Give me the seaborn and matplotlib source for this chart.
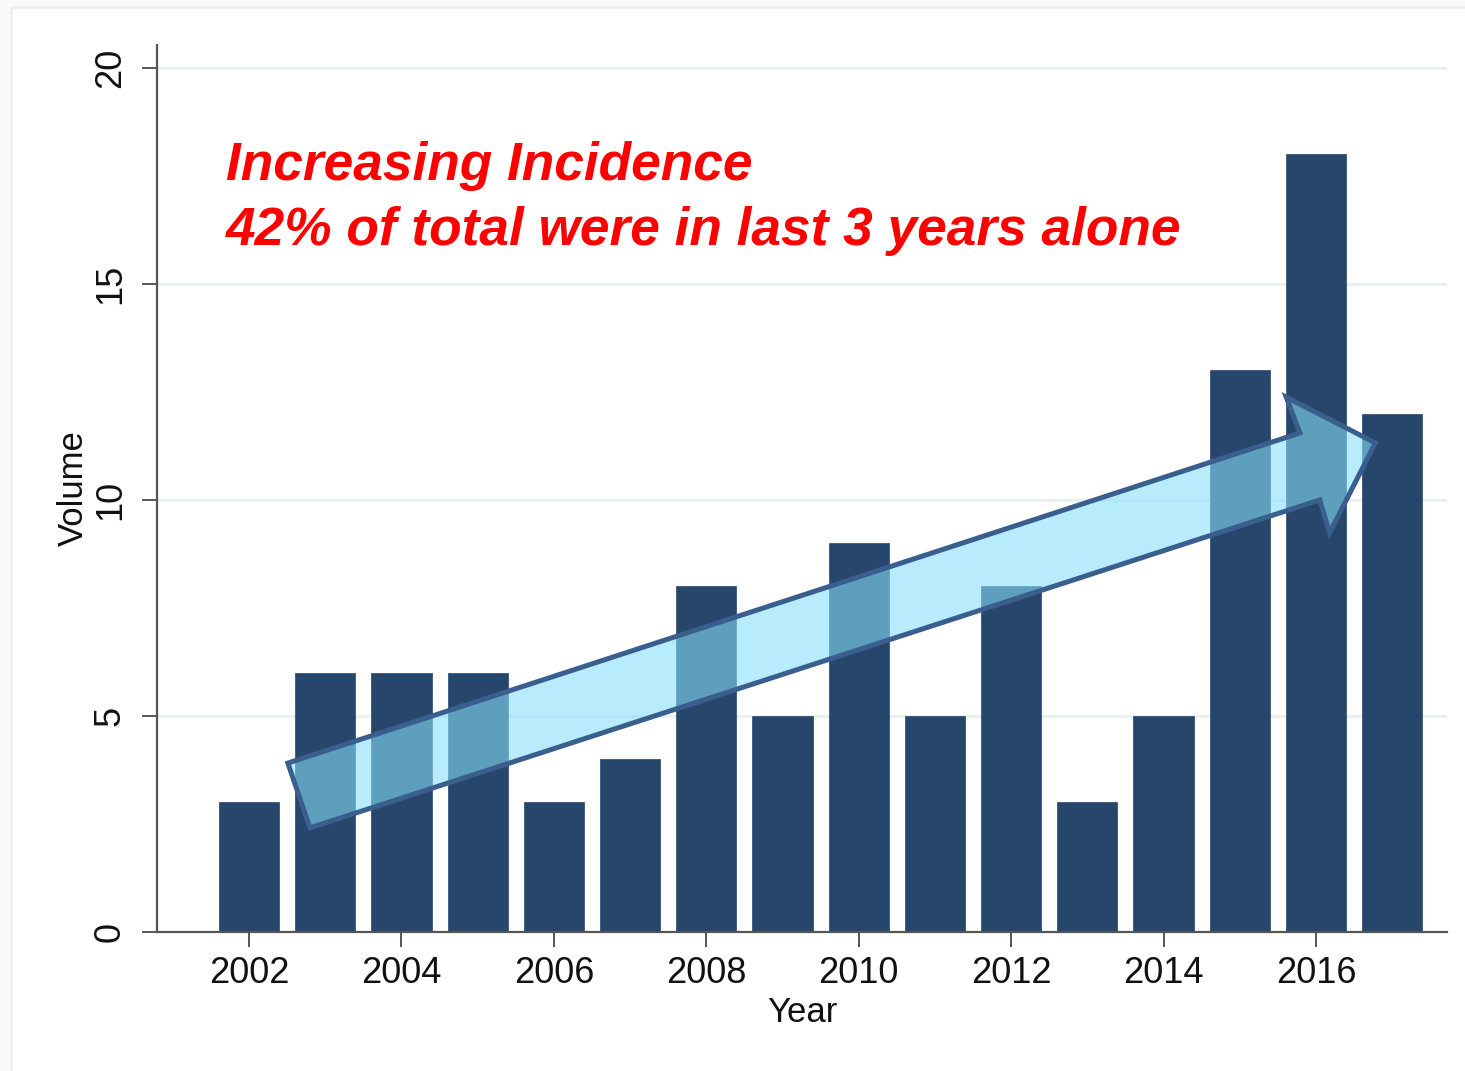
import matplotlib
matplotlib.use("Agg")
import matplotlib.pyplot as plt
import seaborn as sns
import pandas as pd
from matplotlib.patches import Polygon, Rectangle

years = list(range(2002, 2018))
volume = [3, 6, 6, 6, 3, 4, 8, 5, 9, 5, 8, 3, 5, 13, 18, 12]
xtick_years = [2002, 2004, 2006, 2008, 2010, 2012, 2014, 2016]
ytick_vals = [0, 5, 10, 15, 20]
title_lines = ["Increasing Incidence", "42% of total were in last 3 years alone"]

# trend arrow outline (annotation, in data units: year, volume)
arrow_x = [2002.51, 2015.79, 2015.61, 2016.78, 2016.18, 2016.05, 2002.80]
arrow_y = [3.91, 11.55, 12.38, 11.32, 9.24, 10.00, 2.41]

sns.set_theme(style="white")
plt.rcParams['font.family'] = ['Liberation Sans', 'DejaVu Sans']

df = pd.DataFrame({"Year": years, "Volume": volume})

fig = plt.figure(figsize=(14.65, 10.71), dpi=100)
fig.patches.append(Rectangle((11/1465, -0.01), 1.02, 1 - 7/1071 + 0.01,
                             transform=fig.transFigure, facecolor='white',
                             edgecolor='#eef1f3', linewidth=2, zorder=-10))
fig.patch.set_facecolor('#fafafa')
ax = fig.add_axes([157/1465, 1 - 932/1071, (1447 - 157)/1465, (932 - 45)/1071])
ax.set_facecolor('white')

sns.barplot(data=df, x="Year", y="Volume", native_scale=True, width=0.79,
            color='#26466b', saturation=1, ax=ax, zorder=2, edgecolor='#26466b',
            linewidth=0.5)

ax.set_xlim(2000.793, 2017.72)
ax.set_ylim(0, 20.53)
ax.set_yticks(ytick_vals)
ax.set_xticks(xtick_years)
ax.set_xticklabels([str(y) for y in xtick_years])
ax.set_yticklabels([str(v) for v in ytick_vals], rotation=90, va='center')
for v in ytick_vals[1:]:
    ax.axhline(v, color='#e9f0f2', lw=2, zorder=0)

for s in ['top', 'right']:
    ax.spines[s].set_visible(False)
for s in ['left', 'bottom']:
    ax.spines[s].set_color('#555555')
    ax.spines[s].set_linewidth(1.6)

ax.tick_params(axis='both', which='both', length=11, width=1.4, color='#555555',
               labelsize=26, labelcolor='#111111', direction='out')
ax.tick_params(axis='y', pad=10)
ax.tick_params(axis='x', pad=6)
ax.tick_params(bottom=True, left=True)

ax.set_xlabel("Year", fontsize=25, color='#111111', labelpad=4)
ax.set_ylabel("Volume", fontsize=25, color='#111111', labelpad=2)

poly = Polygon(list(zip(arrow_x, arrow_y)), closed=True, facecolor='#87dffa',
               alpha=0.59, edgecolor='none', zorder=5)
ax.add_patch(poly)
poly_edge = Polygon(list(zip(arrow_x, arrow_y)), closed=True, facecolor='none',
                    edgecolor='#3a5f8f', linewidth=3.6, zorder=6, joinstyle='miter')
ax.add_patch(poly_edge)

fig.text(226/1465, 1 - 180/1071, title_lines[0], fontsize=38.3, color='#ff0000',
         fontweight='bold', fontstyle='italic', ha='left', va='baseline')
fig.text(226/1465, 1 - 245/1071, title_lines[1], fontsize=38.3, color='#ff0000',
         fontweight='bold', fontstyle='italic', ha='left', va='baseline')

fig.savefig("out.png", dpi=100, facecolor=fig.get_facecolor())
